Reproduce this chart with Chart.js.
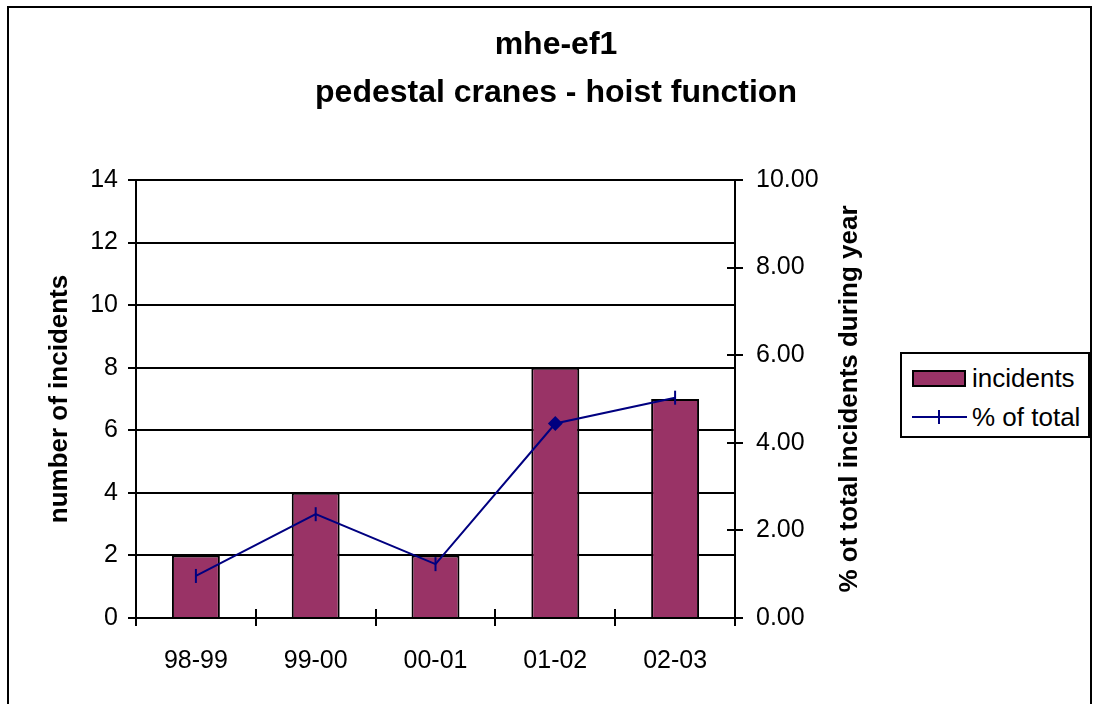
<!DOCTYPE html>
<html>
<head>
<meta charset="utf-8">
<script src="https://cdn.jsdelivr.net/npm/chart.js@4.4.1/dist/chart.umd.min.js"></script>
<style>
  html, body { margin: 0; padding: 0; background: #fff; }
  body { width: 1093px; height: 704px; position: relative; overflow: hidden;
         font-family: "Liberation Sans", Arial, sans-serif; }
  #wrap { position: absolute; left: 0; top: 0; width: 1093px; height: 704px; }
  #frame { position: absolute; left: 7px; top: 6px; width: 1081px; height: 720px;
           border: 2px solid #000; pointer-events: none; }
  #legend { position: absolute; left: 900px; top: 352px; width: 186px; height: 82px;
            border: 2px solid #000; background: #fff; }
  .row { position: absolute; left: 0; height: 30px; width: 186px; }
  .row span { position: absolute; left: 70px; top: 0; line-height: 30px; font-size: 26px; color: #000; }
  .sw { position: absolute; left: 10px; top: 7px; width: 50px; height: 13px;
        background: #993366; border: 2px solid #000; }
  .ln { position: absolute; left: 10px; top: 14px; width: 55px; height: 2px; background: #000080; }
  .mk { position: absolute; left: 36px; top: 8px; width: 2px; height: 14px; background: #000080; }
</style>
</head>
<body>
<div id="wrap"><canvas id="c" width="1093" height="704"></canvas></div>
<div id="frame"></div>
<div id="legend">
  <div class="row" style="top:9px"><div class="sw"></div><span>incidents</span></div>
  <div class="row" style="top:48px"><div class="ln"></div><div class="mk"></div><span>% of total</span></div>
</div>
<script>
var years = ["98-99", "99-00", "00-01", "01-02", "02-03"];
var incidents = [2, 4, 2, 8, 7];
var pctOfTotal = [0.96, 2.37, 1.23, 4.44, 5.03];
var titleLines = ["mhe-ef1", "pedestal cranes - hoist function"];
var leftTitle = "number of incidents";
var rightTitle = "% ot total incidents during year";

var FONT = "'Liberation Sans', Arial, sans-serif";
var MAROON = "#993366", NAVY = "#000080", INK = "#000";

Chart.defaults.font.family = FONT;
Chart.defaults.color = INK;
Chart.defaults.animation = false;

// inner halves of the crossing ticks + rotated axis titles
var extras = {
  id: "extras",
  afterDraw: function (chart) {
    var ctx = chart.ctx, a = chart.chartArea;
    var x = chart.scales.x, y1 = chart.scales.y1;
    ctx.save();
    ctx.strokeStyle = INK; ctx.lineWidth = 2;
    var step = x.getPixelForValue(1) - x.getPixelForValue(0);
    for (var i = 0; i <= years.length; i++) {
      var px = Math.round(x.getPixelForValue(i) - step / 2);
      ctx.beginPath(); ctx.moveTo(px, a.bottom - 9); ctx.lineTo(px, a.bottom); ctx.stroke();
    }
    y1.ticks.forEach(function (t) {
      var py = Math.round(y1.getPixelForValue(t.value));
      ctx.beginPath(); ctx.moveTo(a.right - 8, py); ctx.lineTo(a.right, py); ctx.stroke();
    });
    ctx.fillStyle = INK;
    ctx.font = "bold 26px " + FONT;
    ctx.textAlign = "center"; ctx.textBaseline = "alphabetic";
    var cy = (a.top + a.bottom) / 2;
    ctx.save(); ctx.translate(a.left - 69, cy); ctx.rotate(-Math.PI / 2);
    ctx.fillText(leftTitle, 0, 0); ctx.restore();
    ctx.save(); ctx.translate(a.right + 122, cy); ctx.rotate(-Math.PI / 2);
    ctx.fillText(rightTitle, 0, 0); ctx.restore();
    ctx.restore();
  }
};

new Chart(document.getElementById("c"), {
  type: "bar",
  data: {
    labels: years,
    datasets: [
      {
        type: "line", label: "% of total", data: pctOfTotal, yAxisID: "y1", order: 0,
        borderColor: NAVY, backgroundColor: NAVY, borderWidth: 2, tension: 0,
        pointStyle: ["line", "line", "line", "rectRot", "line"],
        rotation: 90, pointRadius: [7, 7, 7, 6, 7], pointBorderWidth: 2,
        pointBorderColor: NAVY, pointBackgroundColor: NAVY
      },
      {
        type: "bar", label: "incidents", data: incidents, yAxisID: "y", order: 1,
        backgroundColor: MAROON, borderColor: INK, borderWidth: 2,
        categoryPercentage: 1, barPercentage: 0.4
      }
    ]
  },
  options: {
    responsive: false,
    layout: { padding: { left: 19, right: 0, top: 0, bottom: 0 } },
    plugins: {
      legend: { display: false },
      tooltip: { enabled: false },
      title: {
        display: true, text: titleLines, color: INK,
        font: { size: 32, weight: "bold", lineHeight: 1.5 },
        padding: { top: 21, bottom: 63 }
      }
    },
    scales: {
      x: {
        offset: true,
        grid: { offset: true, drawOnChartArea: false, color: INK, tickLength: 8, lineWidth: 2 },
        border: { color: INK, width: 2 },
        ticks: { font: { size: 25 }, padding: 20, color: INK, maxRotation: 0 },
        afterFit: function (s) { s.height = 86; }
      },
      y: {
        position: "left", min: 0, max: 14,
        grid: { color: INK, tickLength: 8, lineWidth: 2 },
        border: { color: INK, width: 2 },
        ticks: { stepSize: 2, font: { size: 25 }, padding: 10, color: INK },
        afterFit: function (s) { s.width = 117; }
      },
      y1: {
        position: "right", min: 0, max: 10,
        grid: { drawOnChartArea: false, color: INK, tickLength: 8, lineWidth: 2 },
        border: { color: INK, width: 2 },
        ticks: { stepSize: 2, font: { size: 25 }, padding: 13, color: INK,
                 callback: function (v) { return v.toFixed(2); } },
        afterFit: function (s) { s.width = 358; }
      }
    }
  },
  plugins: [extras]
});
</script>
</body>
</html>
